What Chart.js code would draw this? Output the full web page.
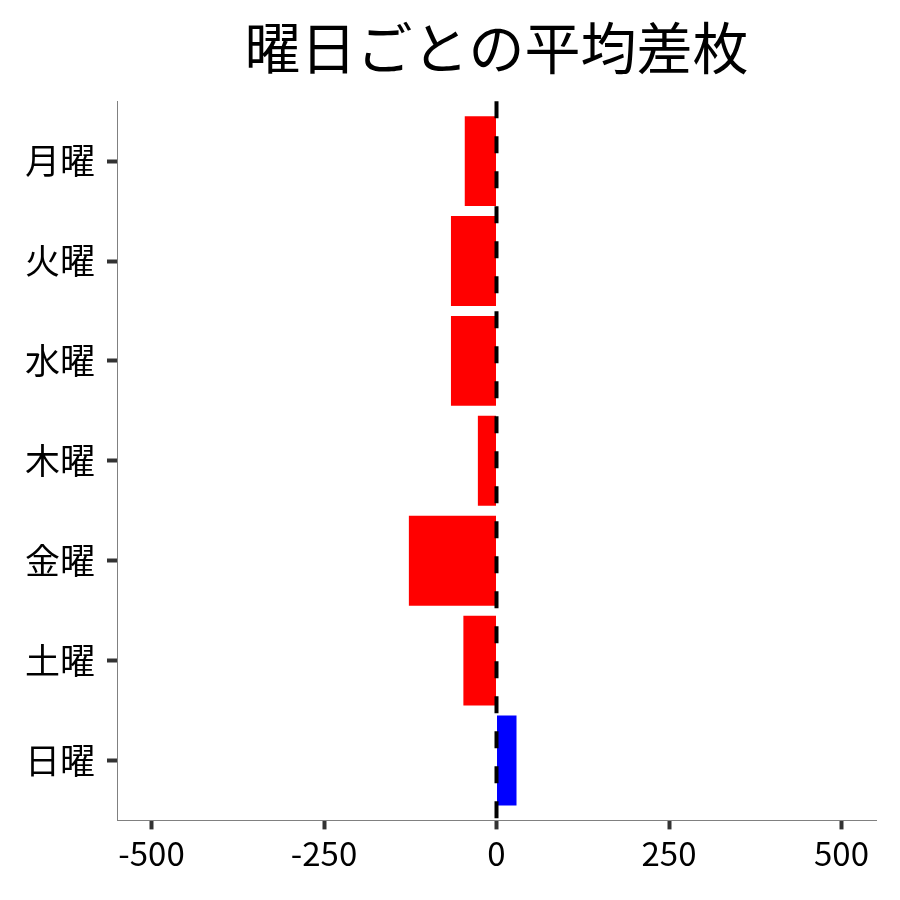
<!DOCTYPE html>
<html lang="ja">
<head>
  <meta charset="UTF-8">
  <title>曜日ごとの平均差枚</title>
  <script src="https://cdn.jsdelivr.net/npm/chart.js"></script>
  <style>
    body { margin: 0; background: #fff; }
    #wrap { width: 900px; height: 900px; }
  </style>
</head>
<body>
<div id="wrap"><canvas id="myChart" width="900" height="900"></canvas></div>
<script>
  const days = ['月曜', '火曜', '水曜', '木曜', '金曜', '土曜', '日曜'];
  const avgDiff = [-46, -66, -66, -27, -127, -48, 29];
  const xTicks = [-500, -250, 0, 250, 500];

  const FONT = '"Noto Sans CJK JP", "Noto Sans", sans-serif';

  // dashed vertical line at x = 0
  const zeroLine = {
    id: 'zeroLine',
    afterDatasetsDraw(chart) {
      const { ctx, chartArea, scales } = chart;
      const x = scales.x.getPixelForValue(0);
      ctx.save();
      ctx.strokeStyle = '#000';
      ctx.lineWidth = 4;
      ctx.setLineDash([17, 18]);
      ctx.beginPath();
      ctx.moveTo(x, chartArea.top);
      ctx.lineTo(x, chartArea.bottom);
      ctx.stroke();
      ctx.restore();
    }
  };

  const ctx = document.getElementById('myChart').getContext('2d');
  const myChart = new Chart(ctx, {
    type: 'bar',
    data: {
      datasets: [{
        data: avgDiff.map((v, i) => ({ x: v, y: i })),
        backgroundColor: avgDiff.map(v => v < 0 ? '#ff0000' : '#0000ff'),
        borderWidth: 0,
        barPercentage: 0.9,
        categoryPercentage: 1.0
      }]
    },
    options: {
      indexAxis: 'y',
      responsive: false,
      animation: false,
      layout: { padding: { left: 13, right: 24, top: 0, bottom: 23 } },
      plugins: {
        legend: { display: false },
        tooltip: { enabled: false },
        title: {
          display: true,
          text: '曜日ごとの平均差枚',
          fullSize: false,
          color: '#000',
          font: { family: FONT, size: 56, weight: 'normal' },
          padding: { top: 14, bottom: 20 }
        }
      },
      scales: {
        x: {
          type: 'linear',
          min: -550,
          max: 550,
          afterBuildTicks: axis => { axis.ticks = xTicks.map(v => ({ value: v })); },
          grid: { drawOnChartArea: false, drawTicks: true, tickLength: 9, tickWidth: 4, tickColor: '#333' },
          border: { display: true, color: '#808080', width: 1 },
          ticks: { color: '#000', font: { family: FONT, size: 33 }, padding: 4, maxRotation: 0 }
        },
        y: {
          type: 'linear',
          reverse: true,
          offset: false,
          min: -0.6,
          max: 6.6,
          afterBuildTicks: axis => { axis.ticks = days.map((_, i) => ({ value: i })); },
          grid: { offset: false, drawOnChartArea: false, drawTicks: true, tickLength: 10, tickWidth: 4, tickColor: '#333' },
          border: { display: true, color: '#808080', width: 1 },
          ticks: {
            color: '#000',
            font: { family: FONT, size: 35 },
            padding: 12,
            callback: v => days[v]
          }
        }
      }
    },
    plugins: [zeroLine]
  });
</script>
</body>
</html>
